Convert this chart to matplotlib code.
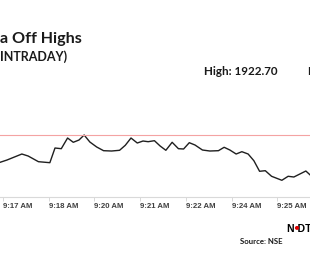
import matplotlib
matplotlib.use('Agg')
import matplotlib.pyplot as plt
from matplotlib.patches import Circle

# intraday ticks: seconds after 9:17:30 and price
secs = [-5, 7, 33, 44, 62, 82, 91, 102, 113, 123, 133, 142, 152, 164, 176, 190,
        204, 214, 224, 235, 245, 254, 265, 275, 285, 296, 307, 316, 326, 336,
        349, 362, 377, 387, 397, 408, 418, 429, 439, 449, 459, 470, 488, 499,
        509, 530, 537]
price = [1915.88, 1916.45, 1917.95, 1917.45, 1916.03, 1915.78, 1919.45, 1919.28,
         1921.95, 1920.88, 1921.45, 1922.70, 1920.95, 1919.70, 1918.78, 1918.70,
         1918.88, 1920.13, 1921.95, 1920.70, 1921.20, 1921.03, 1921.28, 1919.95,
         1918.88, 1920.88, 1919.28, 1919.20, 1920.78, 1920.20, 1918.95, 1918.70,
         1918.78, 1919.63, 1918.95, 1917.95, 1918.53, 1917.95, 1916.28, 1913.63,
         1913.78, 1912.38, 1911.38, 1912.38, 1912.20, 1913.70, 1912.78]
tick_secs = [0, 80, 160, 240, 320, 400, 480]
tick_labels = ['9:17 AM', '9:18 AM', '9:20 AM', '9:21 AM', '9:22 AM', '9:24 AM', '9:25 AM']
high = 1922.70

fig = plt.figure(figsize=(3.1, 2.8), dpi=100)
fig.patch.set_facecolor('white')
ax = fig.add_axes([0, 0.2964, 1, 0.3464])

ax.plot(secs, price, color='#1f1f1f', lw=1.0)
ax.axhline(high, color='#f4a3a3', lw=0.8)

ax.set_xlim(-5.25, 537.25)
ax.set_ylim(1907.2, 1931.45)
ax.set_yticks([])
for s in ['top', 'left', 'right']:
    ax.spines[s].set_visible(False)
ax.spines['bottom'].set_color('#d9d9d9')
ax.spines['bottom'].set_linewidth(0.8)
ax.set_xticks(tick_secs)
ax.set_xticklabels(tick_labels, fontsize=5.6, color='#404040', fontweight='bold',
                   family='Liberation Sans', ha='left')
ax.tick_params(axis='x', length=2.8, width=0.7, color='#d9d9d9', pad=1.3)

fig.text(0.0, 0.8475, 'a Off Highs', fontsize=11.6, fontweight='bold',
         family='Lato', color='#1a1a1a', va='baseline')
fig.text(0.0, 0.782, 'INTRADAY)', fontsize=9.0, fontweight='bold',
         family='Lato', color='#1a1a1a', va='baseline')
fig.text(0.658, 0.732, 'High: 1922.70', fontsize=8.4, fontweight='bold',
         family='Lato', color='#1a1a1a', va='baseline')
fig.text(0.990, 0.732, 'Low', fontsize=8.4, fontweight='bold',
         family='Lato', color='#1a1a1a', va='baseline')
fig.text(0.774, 0.1275, 'Source: NSE', fontsize=5.6, fontweight='bold',
         family='Lato', color='#1a1a1a', va='baseline')
fig.text(0.927, 0.171, 'N DTV', fontsize=7.6, fontweight='heavy',
         family='Liberation Sans', color='black', va='baseline')
fig.add_artist(Circle((0.958, 0.186), 0.0045, transform=fig.transFigure,
                      color='#e00000', zorder=5))

fig.savefig('out.png', dpi=100, facecolor='white')
